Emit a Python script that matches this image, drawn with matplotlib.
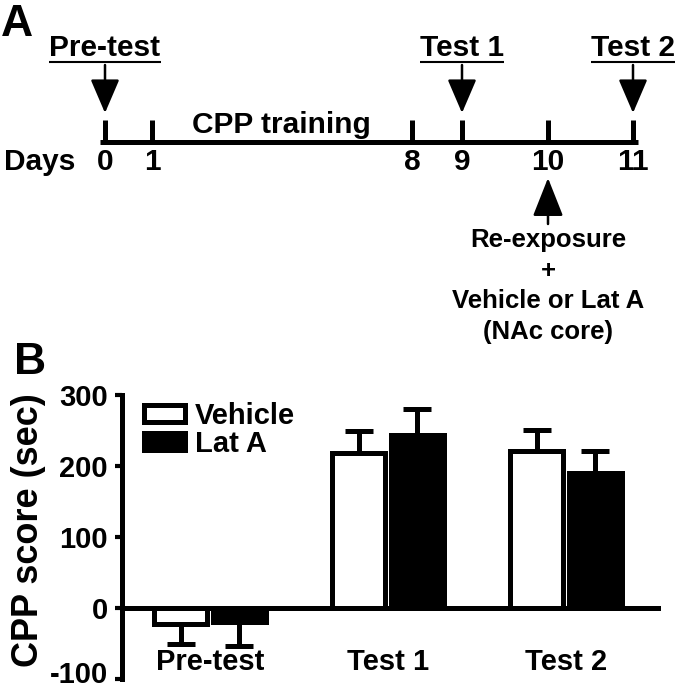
import matplotlib
matplotlib.use('Agg')
import matplotlib.pyplot as plt
from matplotlib.patches import FancyArrowPatch, Patch
from matplotlib.transforms import ScaledTranslation
import numpy as np

plt.rcParams['font.family'] = ['Liberation Sans', 'DejaVu Sans']
plt.rcParams['font.weight'] = 'bold'
plt.rcParams['axes.unicode_minus'] = False

# ---------------- Panel B data ----------------
groups = ['Pre-test', 'Test 1', 'Test 2']
series_labels = ['Vehicle', 'Lat A']
vehicle_mean = [-22, 218, 221]
vehicle_sem = [28, 31, 30]
lata_mean = [-20, 244, 190]
lata_sem = [33, 36, 31]
yticks = [-100, 0, 100, 200, 300]

# ---------------- Panel A (schematic timeline) ----------------
timeline_days = ['0', '1', '8', '9', '10', '11']
timeline_x = [105, 152, 412, 462, 548, 633]      # schematic layout positions (px)
test_labels = ['Pre-test', 'Test 1', 'Test 2']
test_day_idx = [0, 3, 5]
reexposure_idx = 4
reexposure_lines = ['Re-exposure', '+', 'Vehicle or Lat A', '(NAc core)']

W, H = 675, 688
fig = plt.figure(figsize=(W / 100, H / 100), dpi=100)
axA = fig.add_axes([0, 0, 1, 1])
axA.set_xlim(0, W)
axA.set_ylim(H, 0)
axA.axis('off')

LW = 3.6
FS = 21.5
FSB = 21

# timeline
axA.plot([100, 638], [142, 142], color='k', lw=LW, solid_capstyle='butt')
for x, d in zip(timeline_x, timeline_days):
    axA.plot([x, x], [120, 142], color='k', lw=LW, solid_capstyle='butt')
    axA.text(x, 162, d, ha='center', va='center', fontsize=FS)
axA.text(40, 162, 'Days', ha='center', va='center', fontsize=FS)
axA.text(281, 125, 'CPP training', ha='center', va='center', fontsize=FS)

# test labels with arrows
test_texts = []
for lab, idx in zip(test_labels, test_day_idx):
    x = timeline_x[idx]
    t = axA.text(x, 48, lab, ha='center', va='center', fontsize=FS)
    test_texts.append(t)
    arr = FancyArrowPatch((x, 65), (x, 113), arrowstyle='-|>,head_length=2.1,head_width=0.9',
                          mutation_scale=10, lw=1.8, color='k', shrinkA=0, shrinkB=0)
    axA.add_patch(arr)

# re-exposure arrow and text
xr = timeline_x[reexposure_idx]
arr = FancyArrowPatch((xr, 224), (xr, 178), arrowstyle='-|>,head_length=2.4,head_width=0.95',
                      mutation_scale=10, lw=1.8, color='k', shrinkA=0, shrinkB=0)
axA.add_patch(arr)
for i, line in enumerate(reexposure_lines):
    axA.text(xr, 240 + i * 30.5, line, ha='center', va='center', fontsize=18.5)

# panel letters and y label
axA.text(1, 4, 'A', ha='left', va='top', fontsize=32)
axA.text(14, 342, 'B', ha='left', va='top', fontsize=32)
axA.text(29, 530, 'CPP score (sec)', rotation=90, ha='center', va='center', fontsize=26)

# ---------------- Panel B ----------------
axB = fig.add_axes([122 / W, (H - 679) / H, (658 - 122) / W, (679 - 395) / H])
x = np.arange(len(groups))
off, width = 0.165, 0.30


def one_sided(mean, sem):
    lo = [s if m < 0 else 0 for m, s in zip(mean, sem)]
    up = [s if m >= 0 else 0 for m, s in zip(mean, sem)]
    return [lo, up]


axB.errorbar(x - off, vehicle_mean, yerr=one_sided(vehicle_mean, vehicle_sem), fmt='none',
             ecolor='k', elinewidth=LW, capsize=10, capthick=LW, zorder=1)
axB.errorbar(x + off, lata_mean, yerr=one_sided(lata_mean, lata_sem), fmt='none',
             ecolor='k', elinewidth=LW, capsize=10, capthick=LW, zorder=1)
axB.bar(x - off, vehicle_mean, width, color='white', edgecolor='k', lw=LW, zorder=2)
axB.bar(x + off, lata_mean, width, color='k', edgecolor='k', lw=LW, zorder=2)

axB.set_ylim(-100, 300)
axB.set_xlim((122 - 210) / 178, (658 - 210) / 178)
axB.set_yticks(yticks)
axB.set_xticks([])
for s in ['top', 'right']:
    axB.spines[s].set_visible(False)
axB.spines['bottom'].set_position(('data', 0))
axB.spines['bottom'].set_linewidth(LW)
axB.spines['bottom'].set_zorder(3)
axB.spines['left'].set_linewidth(LW)
axB.tick_params(axis='y', direction='out', length=5, width=3, pad=5, labelsize=FSB)
axB.patch.set_alpha(0)

# keep the lowest tick label inside the canvas
lowest = axB.get_yticklabels()[0]
lowest.set_transform(lowest.get_transform() + ScaledTranslation(0, 7 / 100, fig.dpi_scale_trans))

for xi, g in zip(x, groups):
    axB.text(xi, -76, g, ha='center', va='center', fontsize=FSB)

handles = [Patch(facecolor='white', edgecolor='k', lw=LW), Patch(facecolor='k', edgecolor='k', lw=LW)]
axB.legend(handles, series_labels, loc='upper left', bbox_to_anchor=(144, 402),
           bbox_transform=axA.transData, frameon=False, fontsize=FSB, handlelength=1.4,
           handleheight=0.5, handletextpad=0.35, labelspacing=0.0, borderpad=0, borderaxespad=0)

# underline test labels
fig.canvas.draw()
inv = axA.transData.inverted()
for t in test_texts:
    bb = t.get_window_extent()
    (x0, _), (x1, _) = inv.transform([[bb.x0, bb.y0], [bb.x1, bb.y1]])
    axA.plot([x0, x1], [62, 62], color='k', lw=1.5, solid_capstyle='butt')

fig.savefig('out.png', dpi=100)
